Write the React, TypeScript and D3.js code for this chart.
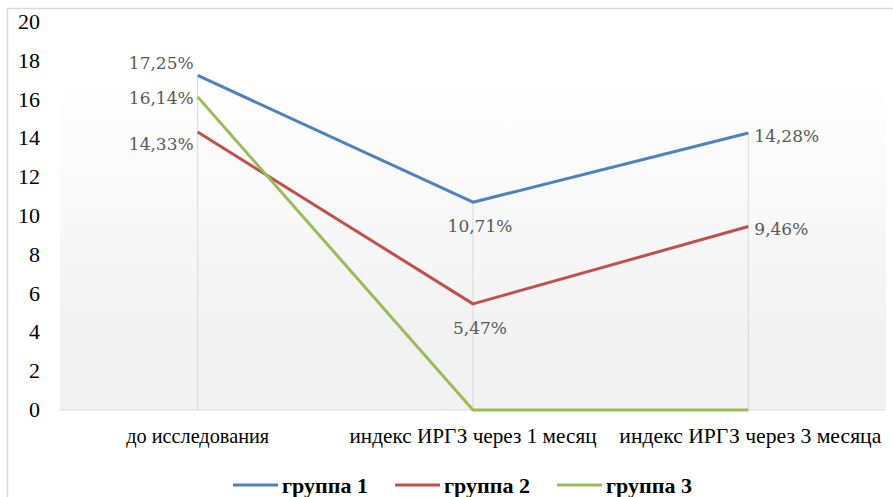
import React from "react";
import * as d3 from "d3";

const categories = ["до исследования", "индекс ИРГЗ через 1 месяц", "индекс ИРГЗ через 3 месяца"];
const seriesNames = ["группа 1", "группа 2", "группа 3"];
const group1 = [17.25, 10.71, 14.28];
const group2 = [14.33, 5.47, 9.46];
const group3 = [16.14, 0, 0];
const yTicks = [0, 2, 4, 6, 8, 10, 12, 14, 16, 18, 20];
const colors = ["#4f81bd", "#c0504d", "#9bbb59"];

const labelPos = [
  ["l", "b", "r"],
  ["l", "b", "r"],
  ["l", "none", "none"],
];

const W = 893, H = 497;
const plot = { left: 60, right: 886, top: 22, bottom: 410 };
const SERIF = "'Liberation Serif'";
const catWidths = [143, 247, 262];
const legendX = [233, 395, 557];

export default function App() {
  const series = [group1, group2, group3];
  const x = d3.scaleBand<string>().domain(categories).range([plot.left, plot.right]);
  const cx = (c: string) => (x(c) as number) + x.bandwidth() / 2;
  const y = d3.scaleLinear().domain([0, 20]).range([plot.bottom, plot.top]);
  const line = d3.line<number>().x((_, i) => cx(categories[i])).y((d) => y(d));
  const fmt = (v: number) => v.toFixed(2).replace(".", ",") + "%";

  const labelOffset: Record<string, number[]> = {
    "0-l": [-4, -12],
    "1-l": [-4, 12],
    "2-l": [-4, 1],
  };

  return (
    <svg width={W} height={H} style={{ position: "absolute", left: 0, top: 0 }}>
      <defs>
        <linearGradient id="bg" x1="0" y1="0" x2="0" y2="1">
          <stop offset="0" stopColor="#ffffff" />
          <stop offset="0.15" stopColor="#ffffff" />
          <stop offset="0.8" stopColor="#f2f2f2" />
          <stop offset="1" stopColor="#f2f2f2" />
        </linearGradient>
      </defs>
      <rect x={0} y={0} width={W} height={H} fill="#fff" />
      <rect x={7.5} y={8.5} width={W + 20} height={H + 20} fill="none" stroke="#d9d9d9" strokeWidth={1.5} />
      <rect x={plot.left} y={plot.top} width={plot.right - plot.left} height={plot.bottom - plot.top} fill="url(#bg)" />
      {categories.map((c, i) => {
        const maxV = d3.max(series, (s) => s[i]) as number;
        return <line key={c} x1={cx(c)} x2={cx(c)} y1={y(maxV)} y2={y(0)} stroke="#d9d9d9" strokeWidth={1} />;
      })}
      <line x1={plot.left} x2={plot.right} y1={y(0)} y2={y(0)} stroke="#d9d9d9" strokeWidth={1} />
      {yTicks.map((t) => (
        <text key={t} x={40} y={y(t)} dy="0.35em" textAnchor="end" fontFamily={SERIF} fontSize={20} textLength={t >= 10 ? 22 : 11} lengthAdjust="spacingAndGlyphs" fill="#000">
          {t}
        </text>
      ))}
      {categories.map((c, i) => (
        <text key={c} x={cx(c) - catWidths[i] / 2 + (i === 2 ? 2 : 0)} y={443} fontFamily={SERIF} fontSize={21} textLength={catWidths[i]} lengthAdjust="spacingAndGlyphs" fill="#000">
          {c}
        </text>
      ))}
      {series.map((s, si) => (
        <path key={si} d={line(s) as string} fill="none" stroke={colors[si]} strokeWidth={3} strokeLinejoin="round" />
      ))}
      {series.map((s, si) =>
        s.map((v, i) => {
          const pos = labelPos[si][i];
          if (pos === "none") return null;
          const px = cx(categories[i]);
          const py = y(v);
          let tx = px, ty = py, anchor: "start" | "middle" | "end" = "middle";
          if (pos === "l") {
            const off = labelOffset[`${si}-l`];
            tx = px + off[0];
            ty = py + off[1];
            anchor = "end";
          } else if (pos === "b") {
            tx = px + 7;
            ty = py + 24;
          } else {
            tx = px + 6;
            ty = py + 3;
            anchor = "start";
          }
          return (
            <text key={`${si}-${i}`} x={tx} y={ty} dy="0.35em" textAnchor={anchor} fontFamily="'DejaVu Serif'" fontSize={17} fill="#595959">
              {fmt(v)}
            </text>
          );
        })
      )}
      {seriesNames.map((n, i) => {
        const lx = legendX[i];
        return (
          <g key={n}>
            <line x1={lx} x2={lx + 45} y1={485} y2={485} stroke={colors[i]} strokeWidth={3} />
            <text x={lx + 49} y={493} fontFamily={SERIF} fontWeight="bold" fontSize={22} textLength={86} lengthAdjust="spacingAndGlyphs" fill="#000">
              {n}
            </text>
          </g>
        );
      })}
    </svg>
  );
}
